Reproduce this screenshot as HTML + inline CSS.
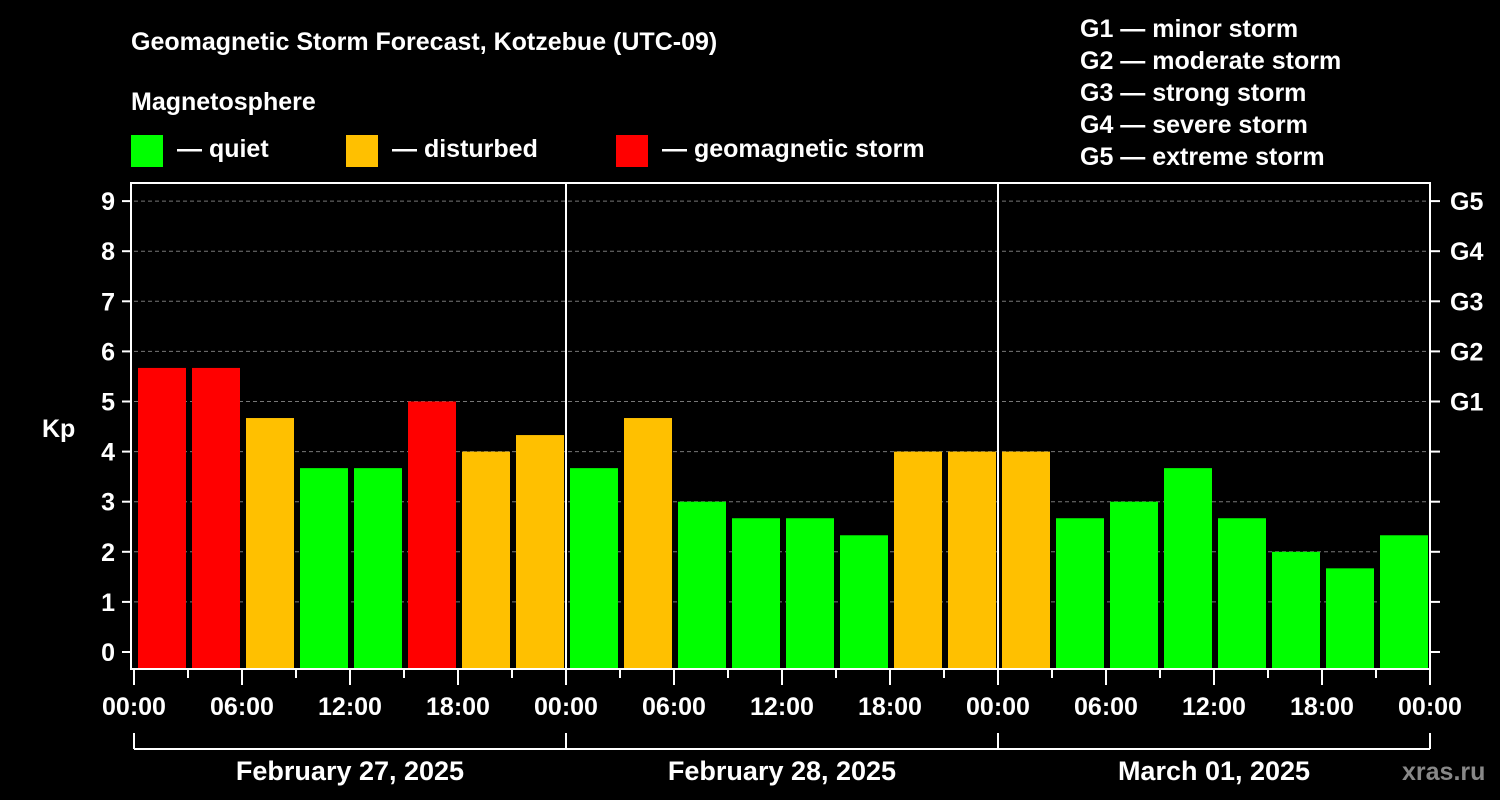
<!DOCTYPE html>
<html><head><meta charset="utf-8"><style>
html,body{margin:0;padding:0;background:#000;}
svg{display:block;font-family:"Liberation Sans",Arial,sans-serif;font-weight:bold;}
</style></head><body>
<svg id="chart" width="1500" height="800" viewBox="0 0 1500 800">
<rect x="0" y="0" width="1500" height="800" fill="#000"/>
<text x="131" y="50" fill="#fff" font-size="25">Geomagnetic Storm Forecast, Kotzebue (UTC-09)</text>
<text x="131" y="110" fill="#fff" font-size="25">Magnetosphere</text>
<g><rect x="131" y="135" width="32" height="32" fill="#00ff00"/><text x="177" y="157" fill="#fff" font-size="25">— quiet</text></g>
<g><rect x="346" y="135" width="32" height="32" fill="#ffc000"/><text x="392" y="157" fill="#fff" font-size="25">— disturbed</text></g>
<g><rect x="616" y="135" width="32" height="32" fill="#ff0000"/><text x="662" y="157" fill="#fff" font-size="25">— geomagnetic storm</text></g>
<g fill="#fff" font-size="25">
<text x="1080" y="37">G1 — minor storm</text>
<text x="1080" y="69">G2 — moderate storm</text>
<text x="1080" y="101">G3 — strong storm</text>
<text x="1080" y="133">G4 — severe storm</text>
<text x="1080" y="165">G5 — extreme storm</text>
</g>
<g id="grid"></g><g id="bars"></g><g id="axes"></g>
<text x="42" y="437" fill="#fff" font-size="25">Kp</text>
<text x="1402" y="780" fill="#888" font-size="25">xras.ru</text>
</svg>
<script>
const values=[5.67,5.67,4.67,3.67,3.67,5,4,4.33, 3.67,4.67,3,2.67,2.67,2.33,4,4, 4,2.67,3,3.67,2.67,2,1.67,2.33];
const yTicks=[0,1,2,3,4,5,6,7,8,9];
const gLabels=["G1","G2","G3","G4","G5"];
const gLevels=[5,6,7,8,9];
const xLabels=["00:00","06:00","12:00","18:00"];
const dayLabels=["February 27, 2025","February 28, 2025","March 01, 2025"];
const NS="http://www.w3.org/2000/svg";
const X0=134,X1=1430,Yb=669,Ytop=183;
const y=v=>652-v*50.1;
const x=i=>X0+i*(X1-X0)/values.length;
function mk(p,t,a){const e=document.createElementNS(NS,t);for(const k in a)e.setAttribute(k,a[k]);p.appendChild(e);return e;}
const grid=document.getElementById('grid'),bars=document.getElementById('bars'),axes=document.getElementById('axes');
yTicks.forEach(v=>{if(v>0){const l=mk(grid,'line',{x1:X0,x2:X1,y1:y(v),y2:y(v),stroke:'#777','stroke-dasharray':'4,3','stroke-width':1});

}});
const slot=(X1-X0)/values.length;
values.forEach((v,i)=>{const c=v>=5?'#ff0000':(v>=4?'#ffc000':'#00ff00');
const r=mk(bars,'rect',{x:x(i)+4,y:y(v),width:slot-6,height:Yb-y(v),fill:c});

});
mk(axes,'rect',{x:131,y:Ytop,width:X1-131,height:Yb-Ytop,fill:'none',stroke:'#fff','stroke-width':2});
[1,2].forEach(d=>{mk(axes,'line',{x1:X0+d*432,x2:X0+d*432,y1:Ytop,y2:Yb,stroke:'#fff','stroke-width':2});});
yTicks.forEach(v=>{mk(axes,'line',{x1:122,x2:131,y1:y(v),y2:y(v),stroke:'#fff','stroke-width':2});
mk(axes,'line',{x1:X1,x2:1440,y1:y(v),y2:y(v),stroke:'#fff','stroke-width':2});
const t=mk(axes,'text',{x:115,y:y(v)+9,fill:'#fff','font-size':25,'text-anchor':'end'});t.textContent=v;

});
gLevels.forEach((v,i)=>{const t=mk(axes,'text',{x:1450,y:y(v)+9,fill:'#fff','font-size':25});t.textContent=gLabels[i];

});
for(let i=0;i<=values.length;i++){const major=i%2===0;mk(axes,'line',{x1:x(i),x2:x(i),y1:Yb,y2:major?685:678,stroke:'#fff','stroke-width':2});
if(major){const t=mk(axes,'text',{x:x(i),y:715,fill:'#fff','font-size':25,'text-anchor':'middle'});t.textContent=xLabels[(i/2)%4];

}}
mk(axes,'line',{x1:X0,x2:X1,y1:749,y2:749,stroke:'#fff','stroke-width':2});
for(let d=0;d<=3;d++)mk(axes,'line',{x1:X0+d*432,x2:X0+d*432,y1:733,y2:749,stroke:'#fff','stroke-width':2});
dayLabels.forEach((s,d)=>{const t=mk(axes,'text',{x:X0+d*432+216,y:780,fill:'#fff','font-size':27,'text-anchor':'middle'});t.textContent=s;

});
</script>
</body></html>
